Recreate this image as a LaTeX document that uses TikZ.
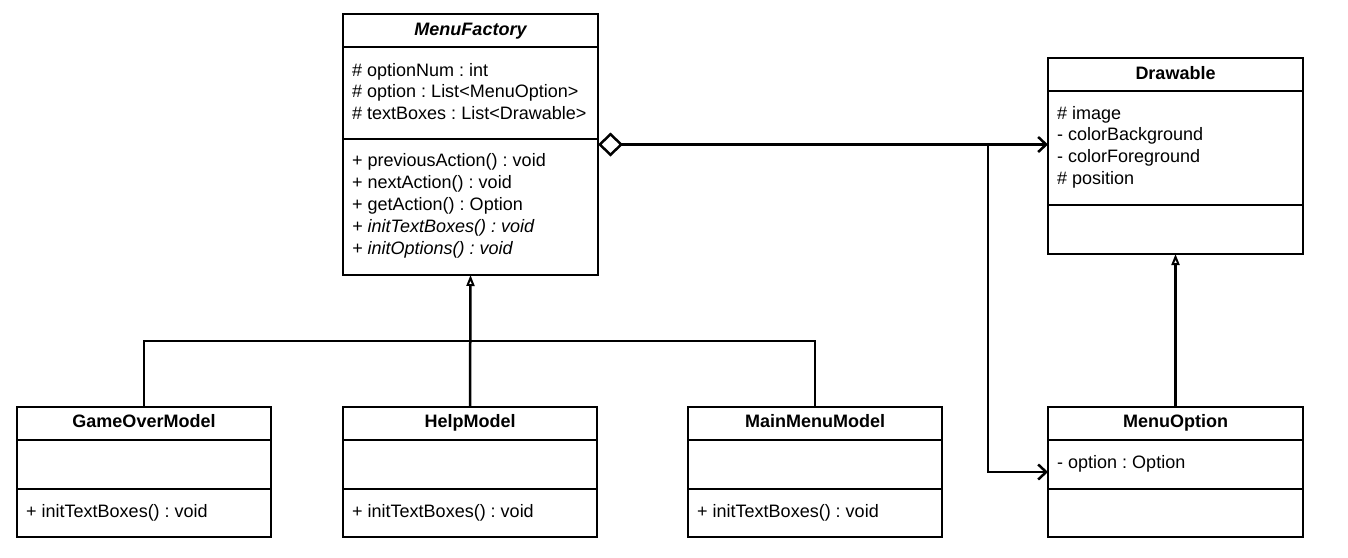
\documentclass[tikz,border=0pt]{standalone}
\usepackage{fontspec}
\setmainfont{Liberation Sans}
\usetikzlibrary{arrows.meta}
\frenchspacing
\tikzset{
  classbox/.style={draw, line width=2.7pt, inner sep=0pt, outer sep=0pt, fill=white},
  divider/.style={line width=2.7pt},
  conn/.style={line width=2.5pt},
  txt/.style={anchor=base west, inner sep=0pt, font=\fontsize{18}{22}\selectfont},
  ttl/.style={anchor=base, inner sep=0pt, font=\fontsize{18}{22}\selectfont\bfseries},
  gen/.style={conn, -{Triangle[length=11pt, width=8pt, fill=white, line width=2pt]}},
  assoc/.style={conn, -{Straight Barb[length=8pt, width=15pt, line width=2.5pt]}},
  agg/.style={conn, {Diamond[length=25pt, width=24pt, fill=white, line width=2.5pt]}-{Straight Barb[length=8pt, width=15pt, line width=2.5pt]}},
}
\begin{document}
\begin{tikzpicture}[x=1pt,y=-1pt]
\useasboundingbox (0,0) rectangle (1348,557);

% MenuFactory
\node[classbox, minimum width=255pt, minimum height=261pt] (mf) at (470.5,144.5) {};
\draw[divider] (mf.west |- 0,47) -- (mf.east |- 0,47);
\draw[divider] (mf.west |- 0,139) -- (mf.east |- 0,139);
\node[ttl, font=\fontsize{18}{22}\selectfont\bfseries\itshape] (mft) at (470.5,35) {MenuFactory};
\node[txt] (mfa1) at (352,76) {\# optionNum : int};
\node[txt] (mfa2) at (352,97) {\# option : List<MenuOption>};
\node[txt] (mfa3) at (352,119) {\# textBoxes : List<Drawable>};
\node[txt] (mfm1) at (352,166) {+ previousAction() : void};
\node[txt] (mfm2) at (352,188) {+ nextAction() : void};
\node[txt] (mfm3) at (352,210) {+ getAction() : Option};
\node[txt] (mfm4) at (352,232) {\itshape + initTextBoxes() : void};
\node[txt] (mfm5) at (352,254) {\itshape + initOptions() : void};

% Drawable
\node[classbox, minimum width=255pt, minimum height=196pt] (dr) at (1175.5,156) {};
\draw[divider] (dr.west |- 0,91) -- (dr.east |- 0,91);
\draw[divider] (dr.west |- 0,205) -- (dr.east |- 0,205);
\node[ttl] (drt) at (1175.5,79) {Drawable};
\node[txt] (dra1) at (1057,119) {\# image};
\node[txt] (dra2) at (1057,140) {- colorBackground};
\node[txt] (dra3) at (1057,162) {- colorForeground};
\node[txt] (dra4) at (1057,184) {\# position};

% MenuOption
\node[classbox, minimum width=255pt, minimum height=130pt] (mo) at (1175.5,472) {};
\draw[divider] (mo.west |- 0,440) -- (mo.east |- 0,440);
\draw[divider] (mo.west |- 0,489) -- (mo.east |- 0,489);
\node[ttl] (mot) at (1175.5,427) {MenuOption};
\node[txt] (moa1) at (1057,468) {- option : Option};

% GameOverModel
\node[classbox, minimum width=254pt, minimum height=130pt] (go) at (144,472) {};
\draw[divider] (go.west |- 0,440) -- (go.east |- 0,440);
\draw[divider] (go.west |- 0,489) -- (go.east |- 0,489);
\node[ttl] (got) at (144,427) {GameOverModel};
\node[txt] (gom1) at (26,517) {+ initTextBoxes() : void};

% HelpModel
\node[classbox, minimum width=254pt, minimum height=130pt] (hm) at (470,472) {};
\draw[divider] (hm.west |- 0,440) -- (hm.east |- 0,440);
\draw[divider] (hm.west |- 0,489) -- (hm.east |- 0,489);
\node[ttl] (hmt) at (470,427) {HelpModel};
\node[txt] (hmm1) at (352,517) {+ initTextBoxes() : void};

% MainMenuModel
\node[classbox, minimum width=254pt, minimum height=130pt] (mm) at (815,472) {};
\draw[divider] (mm.west |- 0,440) -- (mm.east |- 0,440);
\draw[divider] (mm.west |- 0,489) -- (mm.east |- 0,489);
\node[ttl] (mmt) at (815,427) {MainMenuModel};
\node[txt] (mmm1) at (697,517) {+ initTextBoxes() : void};

% connectors
\draw[agg] (mf.east) -- (mf.east -| dr.west);
\coordinate (br) at (988,144.5);
\draw[assoc] (br) |- (mo.west);
\draw[gen] (hm.north) -- (mf.south);
\coordinate (j) at (470,341);
\draw[conn] (go.north) |- (j) -| (mm.north);
\draw[gen] (mo.north) -- (dr.south);
\end{tikzpicture}
\end{document}
